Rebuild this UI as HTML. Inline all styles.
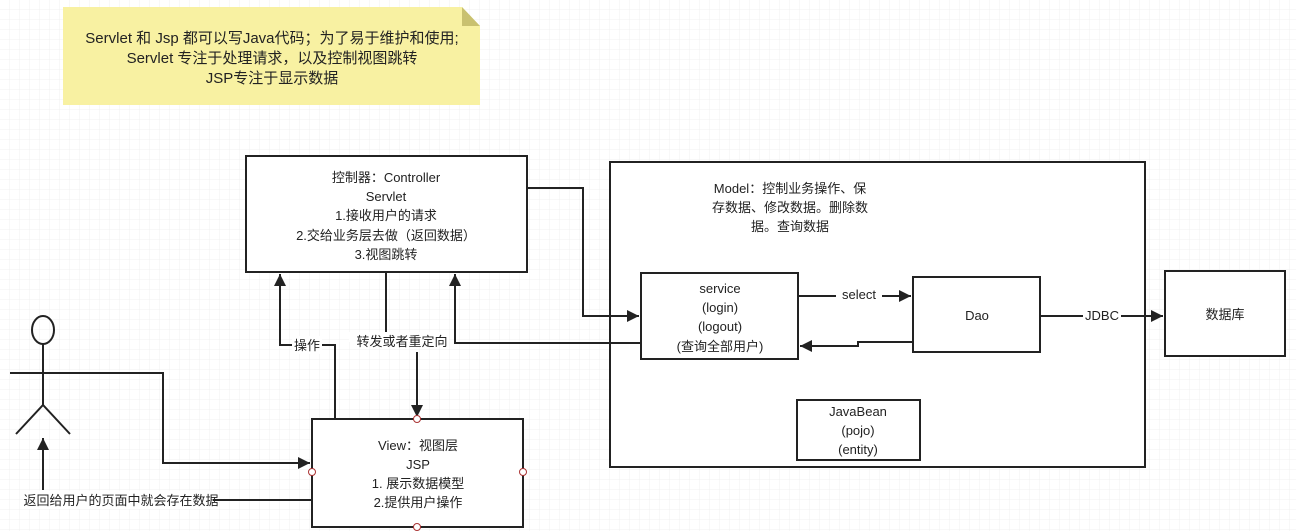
<!DOCTYPE html>
<html><head><meta charset="utf-8"><style>
html,body{margin:0;padding:0;background:#fff;}
svg{display:block;}
text{font-family:"Liberation Sans","Noto Sans CJK SC",sans-serif;font-size:13px;fill:#222;}
.n{font-size:15px;}
</style></head><body>
<svg width="1296" height="531" viewBox="0 0 1296 531" xmlns="http://www.w3.org/2000/svg">
<defs>
<pattern id="g" width="10" height="10" patternUnits="userSpaceOnUse">
<path d="M10 0V10H0" fill="none" stroke="#f1f1f1" stroke-width="1"/>
</pattern>
<marker id="a" viewBox="0 0 10 10" refX="10" refY="5" markerWidth="7" markerHeight="6" orient="auto" markerUnits="strokeWidth">
<path d="M0 0L10 5L0 10z" fill="#222"/>
</marker>
</defs>
<rect width="1296" height="531" fill="url(#g)"/>
<path d="M63 7H462L480 26V105H63Z" fill="#f8f1a2"/>
<path d="M462 7L480 26H462Z" fill="#c9c170"/>
<text class="n" x="272" y="43" text-anchor="middle">Servlet 和 Jsp  都可以写Java代码；为了易于维护和使用;</text>
<text class="n" x="272" y="63" text-anchor="middle">Servlet 专注于处理请求，以及控制视图跳转</text>
<text class="n" x="272" y="83" text-anchor="middle">JSP专注于显示数据</text>
<g fill="#fff" stroke="#222" stroke-width="2">
<rect x="246" y="156" width="281" height="116"/>
<rect x="610" y="162" width="535" height="305"/>
<rect x="641" y="273" width="157" height="86"/>
<rect x="913" y="277" width="127" height="75"/>
<rect x="1165" y="271" width="120" height="85"/>
<rect x="797" y="400" width="123" height="60"/>
<rect x="312" y="419" width="211" height="108"/>
</g>
<g text-anchor="middle" class="t">
<text x="386" y="182">控制器：Controller</text>
<text x="386" y="201">Servlet</text>
<text x="386" y="220">1.接收用户的请求</text>
<text x="386" y="240">2.交给业务层去做（返回数据）</text>
<text x="386" y="259">3.视图跳转</text>
<text x="790" y="193">Model：控制业务操作、保</text>
<text x="790" y="212">存数据、修改数据。删除数</text>
<text x="790" y="231">据。查询数据</text>
<text x="720" y="293">service</text>
<text x="720" y="312">(login)</text>
<text x="720" y="331">(logout)</text>
<text x="720" y="351">(查询全部用户)</text>
<text x="977" y="320">Dao</text>
<text x="1225" y="319">数据库</text>
<text x="858" y="416">JavaBean</text>
<text x="858" y="435">(pojo)</text>
<text x="858" y="454">(entity)</text>
<text x="418" y="450">View：视图层</text>
<text x="418" y="469">JSP</text>
<text x="418" y="488">1. 展示数据模型</text>
<text x="418" y="507">2.提供用户操作</text>
</g>
<g fill="none" stroke="#222" stroke-width="2">
<ellipse cx="43" cy="330" rx="11" ry="14"/>
<path d="M43 344V405M16 434L43 405L70 434"/>
<path d="M10 373H163V463H310" marker-end="url(#a)"/>
<path d="M43 490V438" marker-end="url(#a)"/>
<path d="M213 500H312"/>
<path d="M335 419V345H280V274" marker-end="url(#a)"/>
<path d="M386 272V334"/>
<path d="M417 352V417" marker-end="url(#a)"/>
<path d="M641 343H455V274" marker-end="url(#a)"/>
<path d="M527 188H583V316H639" marker-end="url(#a)"/>
<path d="M798 296H911" marker-end="url(#a)"/>
<path d="M913 342H858V346H800" marker-end="url(#a)"/>
<path d="M1040 316H1163" marker-end="url(#a)"/>
</g>
<g fill="#fff">
<rect x="292" y="336" width="30" height="18"/>
<rect x="349" y="332" width="100" height="10"/>
<rect x="836" y="285" width="46" height="18"/>
<rect x="1083" y="306" width="38" height="18"/>
<rect x="29" y="491" width="184" height="18"/>
</g>
<text x="307" y="350" text-anchor="middle">操作</text>
<text x="402" y="346" text-anchor="middle">转发或者重定向</text>
<text x="859" y="299" text-anchor="middle">select</text>
<text x="1102" y="320" text-anchor="middle">JDBC</text>
<text x="121" y="505" text-anchor="middle">返回给用户的页面中就会存在数据</text>
<g fill="#fff" stroke="#a33" stroke-width="1">
<circle cx="417" cy="419" r="3.5"/>
<circle cx="312" cy="472" r="3.5"/>
<circle cx="523" cy="472" r="3.5"/>
<circle cx="417" cy="527" r="3.5"/>
</g>
</svg>
</body></html>
